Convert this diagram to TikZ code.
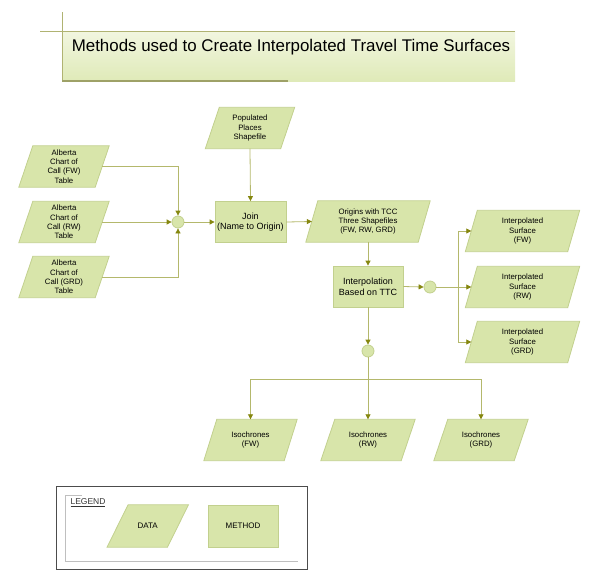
\documentclass[tikz,border=0pt]{standalone}
\usepackage{fontspec}
\setmainfont{Liberation Sans}
\usetikzlibrary{arrows.meta,backgrounds}
\definecolor{dfill}{HTML}{D8E5AA}
\definecolor{dline}{HTML}{C2D08E}
\definecolor{cline}{HTML}{B4B86C}
\definecolor{ctip}{HTML}{85870F}
\definecolor{tline}{HTML}{B0B372}
\definecolor{ttop}{HTML}{F2F6E0}
\definecolor{tbot}{HTML}{DFEAB8}
\newcommand\paraframe[2]{\path[datashape] ([xshift=#2/2]#1.north west) -- ([xshift=#2/2]#1.north east) -- ([xshift=-#2/2]#1.south east) -- ([xshift=-#2/2]#1.south west) -- cycle;}
\tikzset{
  datanode/.style={rectangle, inner sep=0pt, align=center, minimum height=41pt, font=\fontsize{7.8}{9.3}\selectfont},
  datashape/.style={fill=dfill, draw=dline, line width=0.8pt, line join=miter},
  methodbox/.style={rectangle, fill=dfill, draw=dline, line width=0.8pt, minimum width=71pt, minimum height=41pt, inner sep=0pt, align=center, font=\fontsize{9}{10.6}\selectfont},
  junction/.style={circle, fill=dfill, draw=dline, line width=0.8pt, minimum size=12pt, inner sep=0pt},
  conn/.style={draw=cline, line width=0.8pt, -{Triangle[length=5pt,width=5pt,color=ctip]}},
  plainconn/.style={draw=cline, line width=0.8pt},
}
\begin{document}
\begin{tikzpicture}[x=1pt,y=-1pt]
\useasboundingbox (0,0) rectangle (600,582);
% title
\shade[top color=ttop, bottom color=tbot] (62,31) rectangle (515,81);
\draw[tline, line width=0.9pt] (40,31) -- (515,31);
\draw[tline, line width=0.9pt] (62,12) -- (62,81);
\draw[draw=tline!90!black, line width=1.4pt] (62,81) -- (288,81);
\node[font=\fontsize{16.9}{20}\selectfont, anchor=center] (title) at (291,47) {Methods used to Create Interpolated Travel Time Surfaces};

% data nodes
\node[datanode, minimum width=75pt] (pop) at (250,128) {Populated\\Places\\Shapefile};
\node[datanode, minimum width=76pt] (fw) at (64,166.5) {Alberta\\Chart of\\Call (FW)\\Table};
\node[datanode, minimum width=76pt] (rw) at (64,222) {Alberta\\Chart of\\Call (RW)\\Table};
\node[datanode, minimum width=76pt] (grd) at (64,277) {Alberta\\Chart of\\Call (GRD)\\Table};
\node[datanode, minimum width=112pt] (orig) at (368,221.5) {Origins with TCC\\Three Shapefiles\\(FW, RW, GRD)};
\node[datanode, minimum width=102pt] (sfw) at (522.5,231) {Interpolated\\Surface\\(FW)};
\node[datanode, minimum width=102pt] (srw) at (522.5,287) {Interpolated\\Surface\\(RW)};
\node[datanode, minimum width=102pt] (sgrd) at (522.5,342) {Interpolated\\Surface\\(GRD)};
\node[datanode, minimum width=80pt] (ifw) at (250.5,440) {Isochrones\\(FW)};
\node[datanode, minimum width=80pt] (irw) at (368,440) {Isochrones\\(RW)};
\node[datanode, minimum width=80pt] (igrd) at (481,440) {Isochrones\\(GRD)};

% method nodes
\node[methodbox] (join) at (250.5,222) {Join\\(Name to Origin)};
\node[methodbox, minimum width=70pt] (interp) at (368,286.5) {Interpolation\\Based on TTC};

% junctions
\node[junction] (j1) at (178,222) {};
\node[junction] (j2) at (430,287) {};
\node[junction] (j3) at (368,351) {};
\coordinate (bus) at (458,287);
\coordinate (bus2) at (368,379);

% legend
\node[draw=black!70, line width=0.9pt, minimum width=251pt, minimum height=83pt, inner sep=0pt] (legbox) at (181.5,527.5) {};
\draw[black!25, line width=0.8pt] (82,495) -- (65,495) -- (65,561) -- (298,561);
\node[anchor=west, font=\fontsize{8.5}{9}\selectfont, text=black!80] (legtitle) at (67,503) {\underline{LEGEND}};
\node[datanode, minimum width=60pt, minimum height=42pt, font=\fontsize{8}{9}\selectfont] (ldata) at (147.75,526) {DATA};
\node[methodbox, minimum width=70pt, minimum height=42pt, font=\fontsize{8}{9}\selectfont] (lmethod) at (243,526) {METHOD};

\begin{scope}[on background layer]
\paraframe{pop}{14}
\paraframe{fw}{14}
\paraframe{rw}{14}
\paraframe{grd}{14}
\paraframe{orig}{12}
\paraframe{sfw}{12}
\paraframe{srw}{12}
\paraframe{sgrd}{12}
\paraframe{ifw}{13}
\paraframe{irw}{14}
\paraframe{igrd}{14}
\paraframe{ldata}{21}
\end{scope}

% connectors
\draw[conn] (fw.east) -| (j1.north);
\draw[conn] (rw.east) -- (j1.west);
\draw[conn] (grd.east) -| (j1.south);
\draw[conn] (j1.east) -- (join.west);
\draw[conn] (pop.south) -- (join.north);
\draw[conn] (join.east) -- (orig.west);
\draw[conn] (orig.south) -- (interp.north);
\draw[conn] (interp.east) -- (j2.west);
\draw[plainconn] (j2.east) -- (bus);
\draw[conn] (bus) -- (srw.west);
\draw[conn] (bus) |- (sfw.west);
\draw[conn] (bus) |- (sgrd.west);
\draw[conn] (interp.south) -- (j3.north);
\draw[plainconn] (j3.south) -- (bus2);
\draw[conn] (bus2) -- (irw.north);
\draw[conn] (bus2) -| (ifw.north);
\draw[conn] (bus2) -| (igrd.north);
\end{tikzpicture}
\end{document}
